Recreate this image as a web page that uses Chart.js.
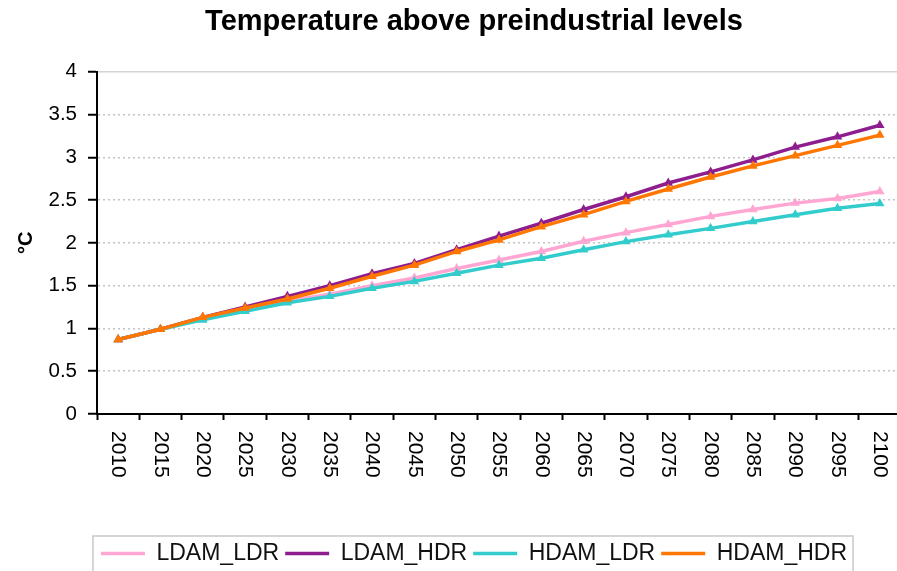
<!DOCTYPE html>
<html>
<head>
<meta charset="utf-8">
<title>Temperature above preindustrial levels</title>
<script src="https://cdn.jsdelivr.net/npm/chart.js@4.4.1/dist/chart.umd.min.js"></script>
<style>
  html, body { margin: 0; padding: 0; background: #fff; overflow: hidden; }
  #wrap { width: 946px; height: 571px; }
</style>
</head>
<body>
<div id="wrap"><canvas id="tempChart" width="946" height="571"></canvas></div>
<script>
const years = ['2010', '2015', '2020', '2025', '2030', '2035', '2040', '2045', '2050', '2055',
               '2060', '2065', '2070', '2075', '2080', '2085', '2090', '2095', '2100'];

const ldamLdr = [0.87, 0.99, 1.11, 1.22, 1.32, 1.40, 1.50, 1.59, 1.70, 1.80,
                 1.90, 2.02, 2.12, 2.215, 2.31, 2.39, 2.465, 2.52, 2.60];
const ldamHdr = [0.87, 0.99, 1.13, 1.25, 1.375, 1.50, 1.64, 1.76, 1.92, 2.08,
                 2.23, 2.39, 2.54, 2.70, 2.83, 2.97, 3.12, 3.24, 3.375];
const hdamLdr = [0.87, 0.99, 1.10, 1.20, 1.30, 1.375, 1.47, 1.55, 1.645, 1.74,
                 1.82, 1.92, 2.015, 2.095, 2.17, 2.25, 2.33, 2.405, 2.46];
const hdamHdr = [0.87, 0.99, 1.13, 1.24, 1.345, 1.47, 1.61, 1.74, 1.90, 2.035,
                 2.19, 2.33, 2.485, 2.63, 2.77, 2.90, 3.02, 3.14, 3.26];

const yTickLabels = ['0', '0.5', '1', '1.5', '2', '2.5', '3', '3.5', '4'];

Chart.defaults.font.family = '"Liberation Sans", Arial, sans-serif';
Chart.defaults.color = '#000';

// vertical year labels, read top to bottom like the original
const xLabelsPlugin = {
    id: 'xLabels',
    afterDraw(chart) {
        const { ctx } = chart;
        const x = chart.scales.x;
        ctx.save();
        ctx.font = '21px "Liberation Sans", Arial, sans-serif';
        ctx.fillStyle = '#000';
        ctx.textAlign = 'left';
        ctx.textBaseline = 'middle';
        years.forEach((label, i) => {
            ctx.save();
            ctx.translate(x.getPixelForValue(i), x.top + 17);
            ctx.rotate(Math.PI / 2);
            ctx.fillText(label, 0, 0);
            ctx.restore();
        });
        ctx.restore();
    }
};

// grey frame round the legend
const legendBoxPlugin = {
    id: 'legendBox',
    afterDraw(chart) {
        const l = chart.legend;
        if (!l || !l.legendHitBoxes.length) return;
        const boxes = l.legendHitBoxes;
        const left = Math.min(...boxes.map(b => b.left)) - 8;
        const right = Math.max(...boxes.map(b => b.left + b.width)) + 6;
        const ctx = chart.ctx;
        ctx.save();
        ctx.strokeStyle = '#c8c8c8';
        ctx.lineWidth = 1.5;
        ctx.strokeRect(left, l.top, right - left, 60);
        ctx.restore();
    }
};

const makeSet = (label, data, color, order) => ({
    label: label,
    data: data,
    borderColor: color,
    backgroundColor: color,
    borderWidth: 3.5,
    pointStyle: 'triangle',
    pointRadius: 2,
    pointHoverRadius: 2,
    tension: 0,
    order: order
});

new Chart(document.getElementById('tempChart'), {
    type: 'line',
    data: {
        labels: years,
        datasets: [
            makeSet('LDAM_LDR', ldamLdr, '#ffa6d2', 4),
            makeSet('LDAM_HDR', ldamHdr, '#8e1e8e', 3),
            makeSet('HDAM_LDR', hdamLdr, '#33cccc', 2),
            makeSet('HDAM_HDR', hdamHdr, '#ff7700', 1)
        ]
    },
    options: {
        responsive: false,
        animation: false,
        devicePixelRatio: 1,
        layout: {
            padding: { left: 47, right: 45, top: 0, bottom: -4 }
        },
        plugins: {
            title: {
                display: true,
                text: 'Temperature above preindustrial levels',
                font: { size: 29, weight: 'bold' },
                color: '#000',
                padding: { top: 5, bottom: 32 }
            },
            legend: {
                position: 'bottom',
                labels: {
                    usePointStyle: true,
                    pointStyle: 'line',
                    pointStyleWidth: 44,
                    padding: 6,
                    font: { size: 23 },
                    color: '#111',
                    sort: (a, b) => a.datasetIndex - b.datasetIndex
                }
            },
            tooltip: { enabled: false }
        },
        scales: {
            x: {
                offset: true,
                grid: {
                    offset: true,
                    drawOnChartArea: false,
                    tickColor: '#000',
                    tickLength: 6,
                    tickWidth: 2
                },
                border: { color: '#000', width: 2 },
                ticks: { display: false },
                afterFit: (scale) => { scale.height = 122; }
            },
            y: {
                min: 0,
                max: 4,
                grid: {
                    color: (c) => c.tick && c.tick.value === 4 ? '#d4d4d4' : '#c4c4c4',
                    lineWidth: 1.5,
                    tickColor: '#000',
                    tickLength: 9,
                    tickWidth: 2
                },
                border: {
                    color: '#000',
                    width: 2,
                    dash: (c) => c.tick && c.tick.value === 4 ? [] : [2, 3]
                },
                ticks: {
                    stepSize: 0.5,
                    padding: 11,
                    font: { size: 20.5 },
                    callback: (value, index) => yTickLabels[index]
                },
                title: {
                    display: true,
                    text: '°C',
                    font: { size: 20, weight: 'bold' },
                    padding: { top: -33, bottom: 0 }
                },
                afterFit: (scale) => { scale.width = 50; }
            }
        }
    },
    plugins: [xLabelsPlugin, legendBoxPlugin]
});
</script>
</body>
</html>
